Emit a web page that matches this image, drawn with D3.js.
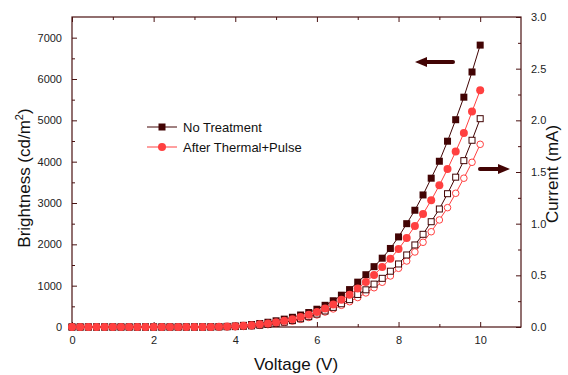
<!DOCTYPE html>
<html>
<head>
<meta charset="utf-8">
<script src="https://cdn.jsdelivr.net/npm/d3@7"></script>
<style>
  body { margin: 0; background: #fff; }
  svg { font-family: Arial, "Liberation Sans", sans-serif; }
</style>
</head>
<body>
<div id="chart"></div>
<script>
// voltage steps, 0.2 V apart
const voltage = d3.range(51).map(i => +(i * 0.2).toFixed(1));

// brightness (cd/m2), left axis
const brightNoTreat = [
  0, 0, 0, 0, 0, 0, 0, 0, 0, 0,
  0, 0, 0, 0, 0, 0, 0, 3, 8, 15,
  25, 40, 60, 85, 115, 150, 190, 235, 290, 350,
  430, 525, 635, 770, 905, 1085, 1265, 1460, 1665, 1900,
  2180, 2500, 2825, 3195, 3600, 4010, 4495, 5015, 5560, 6170,
  6820
];
const brightAfter = [
  0, 0, 0, 0, 0, 0, 0, 0, 0, 0,
  0, 0, 0, 0, 0, 0, 0, 2, 5, 10,
  18, 28, 45, 65, 85, 115, 150, 190, 240, 295,
  365, 450, 545, 660, 780, 930, 1090, 1260, 1450, 1650,
  1886, 2153, 2444, 2735, 3066, 3430, 3820, 4245, 4692, 5211,
  5728
];

// current (mA), right axis
const currNoTreat = [
  0, 0, 0, 0, 0, 0, 0, 0, 0, 0,
  0, 0, 0, 0, 0, 0, 0, 0, 0.001, 0.002,
  0.004, 0.007, 0.011, 0.017, 0.025, 0.035, 0.047, 0.062, 0.08, 0.1,
  0.125, 0.155, 0.19, 0.225, 0.265, 0.315, 0.36, 0.415, 0.471, 0.54,
  0.61, 0.697, 0.794, 0.897, 1.019, 1.142, 1.29, 1.45, 1.61, 1.807,
  2.016
];
const currAfter = [
  0, 0, 0, 0, 0, 0, 0, 0, 0, 0,
  0, 0, 0, 0, 0, 0, 0, 0, 0.001, 0.002,
  0.003, 0.006, 0.01, 0.016, 0.023, 0.032, 0.043, 0.057, 0.074, 0.093,
  0.117, 0.145, 0.175, 0.21, 0.245, 0.285, 0.33, 0.38, 0.433, 0.494,
  0.568, 0.639, 0.726, 0.82, 0.922, 1.036, 1.155, 1.294, 1.44, 1.594,
  1.768
];

const legendNames = ['No Treatment', 'After Thermal+Pulse'];

const dark = '#420404';
const red = '#ff4040';
const axisColor = '#4a1212';

const dims = { width: 568, height: 375, left: 72, right: 47, top: 17, bottom: 48 };
dims.ctrWidth = dims.width - dims.left - dims.right;
dims.ctrHeight = dims.height - dims.top - dims.bottom;

const svg = d3.select('#chart').append('svg')
  .attr('width', dims.width)
  .attr('height', dims.height);

const ctr = svg.append('g')
  .attr('transform', `translate(${dims.left},${dims.top})`);

const xScale = d3.scaleLinear().domain([0, 11]).range([0, dims.ctrWidth]);
const yLeft = d3.scaleLinear().domain([0, 7500]).range([dims.ctrHeight, 0]);
const yRight = d3.scaleLinear().domain([0, 3]).range([dims.ctrHeight, 0]);

// minor ticks first, then major ticks with labels
function styleAxis(g) {
  g.select('.domain').remove();
  g.selectAll('line').attr('stroke', axisColor);
  g.selectAll('text').attr('fill', '#222').style('font-size', '11px');
}

// bottom
ctr.append('g').attr('transform', `translate(0,${dims.ctrHeight})`)
  .call(d3.axisBottom(xScale).tickValues(d3.range(1, 11, 2)).tickSize(-3).tickFormat(''))
  .call(styleAxis);
ctr.append('g').attr('transform', `translate(0,${dims.ctrHeight})`)
  .call(d3.axisBottom(xScale).tickValues(d3.range(0, 11, 2)).tickSize(-5).tickPadding(9))
  .call(styleAxis);
// top
ctr.append('g')
  .call(d3.axisTop(xScale).tickValues(d3.range(1, 11, 2)).tickSize(-3).tickFormat(''))
  .call(styleAxis);
ctr.append('g')
  .call(d3.axisTop(xScale).tickValues(d3.range(0, 11, 2)).tickSize(-5).tickFormat(''))
  .call(styleAxis);
// left
ctr.append('g')
  .call(d3.axisLeft(yLeft).tickValues(d3.range(500, 7500, 1000)).tickSize(-3).tickFormat(''))
  .call(styleAxis);
ctr.append('g')
  .call(d3.axisLeft(yLeft).tickValues(d3.range(0, 7001, 1000)).tickSize(-5).tickPadding(10).tickFormat(d3.format('d')))
  .call(styleAxis);
// right
ctr.append('g').attr('transform', `translate(${dims.ctrWidth},0)`)
  .call(d3.axisRight(yRight).tickValues(d3.range(0.25, 3, 0.5)).tickSize(-3).tickFormat(''))
  .call(styleAxis);
ctr.append('g').attr('transform', `translate(${dims.ctrWidth},0)`)
  .call(d3.axisRight(yRight).tickValues(d3.range(0, 3.01, 0.5)).tickSize(-5).tickPadding(10).tickFormat(d3.format('.1f')))
  .call(styleAxis);

// frame
ctr.append('rect')
  .attr('width', dims.ctrWidth).attr('height', dims.ctrHeight)
  .attr('fill', 'none').attr('stroke', axisColor).attr('stroke-width', 1.2);

const series = [
  { vals: currAfter, y: yRight, color: red, shape: 'circle', filled: false },
  { vals: currNoTreat, y: yRight, color: dark, shape: 'square', filled: false },
  { vals: brightNoTreat, y: yLeft, color: dark, shape: 'square', filled: true },
  { vals: brightAfter, y: yLeft, color: red, shape: 'circle', filled: true }
];

function drawMarker(g, shape, color, filled) {
  if (shape === 'square') {
    const s = filled ? 7 : 6;
    g.append('rect').attr('x', -s / 2).attr('y', -s / 2).attr('width', s).attr('height', s)
      .attr('fill', filled ? color : '#fff').attr('stroke', color).attr('stroke-width', filled ? 0 : 1);
  } else {
    g.append('circle').attr('r', filled ? 4 : 3.3)
      .attr('fill', filled ? color : '#fff').attr('stroke', color).attr('stroke-width', filled ? 0 : 1);
  }
}

series.forEach(s => {
  const pts = voltage.map((v, i) => [v, s.vals[i]]);
  const line = d3.line().x(d => xScale(d[0])).y(d => s.y(d[1]));
  ctr.append('path').datum(pts)
    .attr('d', line).attr('fill', 'none').attr('stroke', s.color).attr('stroke-width', 1);
  ctr.append('g').selectAll('g').data(pts).join('g')
    .attr('transform', d => `translate(${xScale(d[0])},${s.y(d[1])})`)
    .each(function () { drawMarker(d3.select(this), s.shape, s.color, s.filled); });
});

// legend
const legend = svg.append('g').attr('transform', 'translate(147,127)');
[[dark, 'square'], [red, 'circle']].forEach(([c, shape], i) => {
  const row = legend.append('g').attr('transform', `translate(0,${i * 20})`);
  row.append('line').attr('x1', 0).attr('x2', 30).attr('stroke', c).attr('stroke-width', 1);
  drawMarker(row.append('g').attr('transform', 'translate(15,0)'), shape, c, true);
  row.append('text').attr('x', 36).attr('y', 4.5).text(legendNames[i])
    .style('font-size', '13px').attr('fill', '#111');
});

// axis direction arrows
function arrow(x1, x2, y) {
  const dir = Math.sign(x2 - x1);
  svg.append('line').attr('x1', x1).attr('x2', x2 - dir * 8).attr('y1', y).attr('y2', y)
    .attr('stroke', dark).attr('stroke-width', 4).attr('stroke-linecap', 'round');
  svg.append('path')
    .attr('d', `M${x2},${y} L${x2 - dir * 12},${y - 5} L${x2 - dir * 12},${y + 5} Z`)
    .attr('fill', dark);
}
arrow(453, 415, 62);
arrow(480, 510, 169);

// axis titles
svg.append('text').attr('x', 296).attr('y', 370)
  .attr('text-anchor', 'middle').style('font-size', '17px').attr('fill', '#111')
  .text('Voltage (V)');

const yTitle = svg.append('text')
  .attr('transform', `translate(30,${dims.top + dims.ctrHeight / 2 + 6}) rotate(-90)`)
  .attr('text-anchor', 'middle').style('font-size', '17px').attr('fill', '#111');
yTitle.append('tspan').text('Brightness (cd/m');
yTitle.append('tspan').attr('dy', -7).style('font-size', '11px').text('2');
yTitle.append('tspan').attr('dy', 7).text(')');

svg.append('text')
  .attr('transform', `translate(558,${dims.top + dims.ctrHeight / 2 + 2}) rotate(-90)`)
  .attr('text-anchor', 'middle').style('font-size', '17px').attr('fill', '#111')
  .text('Current (mA)');
</script>
</body>
</html>
